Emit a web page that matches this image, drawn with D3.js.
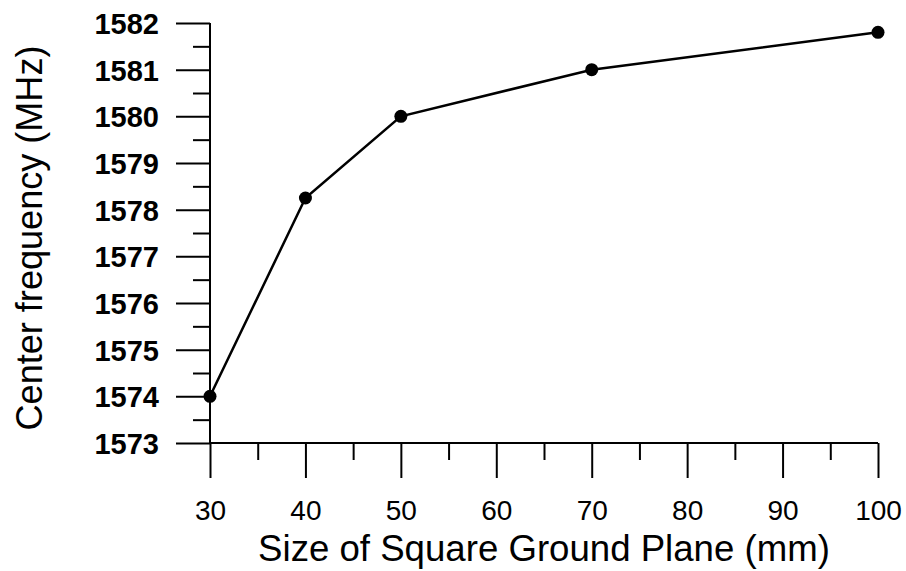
<!DOCTYPE html>
<html><head><meta charset="utf-8">
<script src="https://cdn.jsdelivr.net/npm/d3@7"></script>
<style>
body{margin:0;background:#fff;}
svg{display:block;}
text{font-family:"Liberation Sans",Arial,sans-serif;fill:#000;}
</style></head>
<body><svg id="c" width="906" height="571"></svg>
<script>
const sizes = [30, 40, 50, 70, 100];
const freqs = [1574, 1578.25, 1580, 1581, 1581.8];
const xMajorTicks = [30, 40, 50, 60, 70, 80, 90, 100];
const xMinorTicks = [35, 45, 55, 65, 75, 85, 95];
const yMajorTicks = [1573, 1574, 1575, 1576, 1577, 1578, 1579, 1580, 1581, 1582];
const yMinorTicks = [1573.5, 1574.5, 1575.5, 1576.5, 1577.5, 1578.5, 1579.5, 1580.5, 1581.5];
const xTitle = "Size of Square Ground Plane (mm)";
const yTitle = "Center frequency (MHz)";

const svg = d3.select("#c");
const x = d3.scaleLinear().domain([30, 100]).range([210, 878]);
const y = d3.scaleLinear().domain([1573, 1582]).range([443, 23]);

const sw = 2;
// Y axis major
const gy = svg.append("g").attr("transform", `translate(${x(30)},0)`);
gy.call(d3.axisLeft(y).tickValues(yMajorTicks).tickSize(34).tickPadding(17).tickFormat(d3.format("d")).tickSizeOuter(0));
gy.select(".domain").remove();
gy.selectAll("line").attr("stroke", "#000").attr("stroke-width", sw);
gy.selectAll("text").style("font-size", "29px").style("font-weight", "bold").attr("dy", "0.36em");
// Y minor
const gym = svg.append("g").attr("transform", `translate(${x(30)},0)`);
gym.call(d3.axisLeft(y).tickValues(yMinorTicks).tickSize(17).tickFormat(""));
gym.select(".domain").remove();
gym.selectAll("line").attr("stroke", "#000").attr("stroke-width", sw);

// X axis major
const gx = svg.append("g").attr("transform", `translate(0,${y(1573)})`);
gx.call(d3.axisBottom(x).tickValues(xMajorTicks).tickSize(35).tickPadding(22).tickFormat(d3.format("d")));
gx.select(".domain").remove();
gx.selectAll("line").attr("stroke", "#000").attr("stroke-width", sw);
gx.selectAll("text").style("font-size", "28px").attr("dy", "0.71em");
// X minor
const gxm = svg.append("g").attr("transform", `translate(0,${y(1573)})`);
gxm.call(d3.axisBottom(x).tickValues(xMinorTicks).tickSize(17).tickFormat(""));
gxm.select(".domain").remove();
gxm.selectAll("line").attr("stroke", "#000").attr("stroke-width", sw);

// axis lines
svg.append("line").attr("x1", x(30)).attr("x2", x(30)).attr("y1", y(1582)).attr("y2", y(1573))
  .attr("stroke", "#000").attr("stroke-width", sw);
svg.append("line").attr("x1", x(30)).attr("x2", x(100)).attr("y1", y(1573)).attr("y2", y(1573))
  .attr("stroke", "#000").attr("stroke-width", sw);

// data line
const pts = sizes.map((s, i) => [s, freqs[i]]);
svg.append("path").datum(pts)
  .attr("d", d3.line().x(d => x(d[0])).y(d => y(d[1])))
  .attr("fill", "none").attr("stroke", "#000").attr("stroke-width", 2.5);
svg.selectAll("circle.pt").data(pts).join("circle").attr("class", "pt")
  .attr("cx", d => x(d[0])).attr("cy", d => y(d[1])).attr("r", 6.5).attr("fill", "#000");

// titles
const xt = svg.append("text").attr("x", 544).attr("y", 561).attr("text-anchor", "middle")
  .style("font-size", "30px").text(xTitle);
const xl = xt.node().getComputedTextLength();
xt.style("font-size", (30 * 572 / xl) + "px");

const yt = svg.append("text").attr("transform", "translate(42,238) rotate(-90)").attr("text-anchor", "middle")
  .style("font-size", "30px").text(yTitle);
const yl = yt.node().getComputedTextLength();
yt.style("font-size", (30 * 385 / yl) + "px");
</script></body></html>
